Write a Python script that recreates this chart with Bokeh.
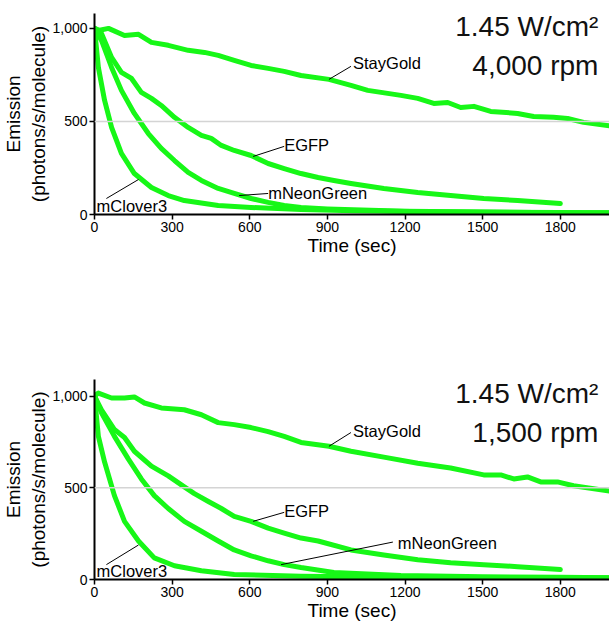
from bokeh.plotting import figure
from bokeh.layouts import column
from bokeh.models import Label, Span, FixedTicker, NumeralTickFormatter, Range1d
from bokeh.embed import file_html
from bokeh.resources import INLINE

# ---------------- data ----------------
# Panel A: 1.45 W/cm2, 4,000 rpm
a_staygold_t = [0, 20, 54, 116, 170, 220, 285, 362, 425, 478, 540, 605, 671, 733, 798, 906, 991,
                1056, 1184, 1249, 1311, 1365, 1415, 1466, 1531, 1635, 1697, 1774, 1828, 1890, 1990]
a_staygold_y = [1000, 990, 1000, 962, 968, 925, 909, 882, 871, 855, 828, 801, 785, 769, 747, 726, 694,
                667, 640, 624, 597, 602, 575, 581, 554, 543, 527, 522, 516, 495, 476]
a_egfp_t = [0, 27, 66, 104, 143, 181, 220, 258, 309, 362, 413, 451, 490, 540, 605, 671, 733, 798,
            864, 925, 991, 1118, 1249, 1376, 1504, 1635, 1800]
a_egfp_y = [1000, 973, 844, 764, 731, 656, 624, 586, 522, 468, 425, 409, 371, 344, 317, 274, 247, 220,
            199, 183, 167, 140, 118, 102, 86, 75, 59]
a_mneon_t = [0, 27, 66, 104, 154, 208, 258, 309, 362, 413, 478, 540, 605, 671, 733, 798, 900, 1000,
             1200, 1500, 1800, 1990]
a_mneon_y = [1000, 935, 790, 667, 543, 435, 355, 290, 226, 183, 140, 113, 86, 65, 48, 38, 30, 25,
             18, 13, 10, 9]
a_mclover_t = [0, 15, 39, 66, 104, 154, 220, 285, 347, 478, 605, 798, 1000, 1300, 1600, 1990]
a_mclover_y = [1000, 790, 613, 468, 328, 220, 145, 102, 75, 48, 38, 27, 20, 15, 12, 10]

# Panel B: 1.45 W/cm2, 1,500 rpm
b_staygold_t = [0, 15, 66, 116, 154, 193, 258, 347, 413, 478, 540, 605, 671, 733, 798, 906, 991, 1118,
                1249, 1376, 1504, 1570, 1620, 1673, 1724, 1789, 1851, 1990]
b_staygold_y = [1000, 1016, 989, 989, 995, 962, 935, 925, 898, 855, 844, 828, 806, 780, 747, 726, 699, 667,
                634, 608, 570, 570, 548, 559, 532, 532, 511, 482]
b_egfp_t = [0, 27, 77, 116, 154, 220, 285, 347, 386, 440, 490, 540, 605, 671, 733, 798, 864, 991,
            1118, 1249, 1376, 1504, 1635, 1800]
b_egfp_y = [1000, 925, 817, 774, 699, 618, 565, 505, 468, 425, 387, 344, 317, 280, 253, 226, 210, 161,
            134, 108, 91, 81, 70, 54]
b_mneon_t = [0, 27, 77, 131, 181, 231, 285, 347, 413, 478, 540, 605, 671, 733, 798, 925, 1184, 1500,
             1800, 1990]
b_mneon_y = [1000, 908, 780, 656, 548, 457, 387, 317, 263, 210, 161, 129, 102, 81, 65, 38, 22, 15,
             12, 10]
b_mclover_t = [0, 15, 39, 77, 116, 170, 231, 309, 413, 540, 798, 1100, 1500, 1990]
b_mclover_y = [1000, 780, 640, 457, 317, 210, 118, 75, 48, 27, 18, 14, 11, 9]

x_ticks = [0, 300, 600, 900, 1200, 1500, 1800]
y_ticks = [0, 500, 1000]
power_label = "1.45 W/cm²"
panel_speeds = ["4,000 rpm", "1,500 rpm"]
x_title = "Time (sec)"
y_title = "Emission\n(photons/s/molecule)"

FONT = "Liberation Sans"
GREEN = "#17f717"


def make_panel(series, speed, labels, height, border_top, border_bottom, ymax):
    p = figure(width=609, height=height, output_backend="svg", toolbar_location=None,
               x_range=Range1d(0, 1990), y_range=Range1d(0, ymax),
               min_border_left=93, min_border_right=0,
               min_border_top=border_top, min_border_bottom=border_bottom)
    p.outline_line_color = None
    p.xgrid.visible = False
    p.ygrid.visible = False
    p.background_fill_color = "white"
    p.border_fill_color = "white"

    p.add_layout(Span(location=500, dimension="width", line_color="#d4d4d4", line_width=1.5))

    for t, y in series:
        p.line(t, y, line_color=GREEN, line_width=5, line_join="round", line_cap="round")

    for ax in (p.xaxis[0], p.yaxis[0]):
        ax.axis_line_color = "black"
        ax.axis_line_width = 2
        ax.major_tick_line_color = "black"
        ax.major_tick_line_width = 1.5
        ax.major_tick_out = 5
        ax.major_tick_in = 0
        ax.minor_tick_line_color = None
        ax.major_label_text_font = FONT
        ax.major_label_text_font_size = "14px"
        ax.major_label_text_color = "black"
        ax.axis_label_text_font = FONT
        ax.axis_label_text_font_size = "19px"
        ax.axis_label_text_font_style = "normal"
        ax.axis_label_text_color = "black"
        ax.major_label_standoff = 2
        ax.axis_label_standoff = 0

    p.xaxis.ticker = FixedTicker(ticks=x_ticks)
    p.yaxis.ticker = FixedTicker(ticks=y_ticks)
    p.yaxis.formatter = NumeralTickFormatter(format="0,0")
    p.xaxis.axis_label = x_title
    p.yaxis.axis_label = y_title

    p.add_layout(Label(x=1947, y=1011, text=power_label, text_align="right",
                       text_baseline="alphabetic", text_font=FONT, text_font_size="28px",
                       text_color="#111111"))
    p.add_layout(Label(x=1947, y=801, text=speed, text_align="right",
                       text_baseline="alphabetic", text_font=FONT, text_font_size="28px",
                       text_color="#111111"))

    for name, tx, ty, (x0, y0, x1, y1) in labels:
        p.segment(x0=[x0], y0=[y0], x1=[x1], y1=[y1], line_color="black", line_width=1)
        p.add_layout(Label(x=tx, y=ty, text=name, text_align="left", text_baseline="alphabetic",
                           text_font=FONT, text_font_size="16.5px", text_color="black"))
    return p


labels_a = [
    ("StayGold", 999, 812, (991, 796, 906, 726)),
    ("EGFP", 733, 371, (733, 366, 613, 312)),
    ("mNeonGreen", 671, 113, (671, 113, 559, 102)),
    ("mClover3", 8, 45, (46, 86, 170, 188)),
]
labels_b = [
    ("StayGold", 999, 812, (991, 801, 906, 726)),
    ("EGFP", 733, 371, (733, 366, 613, 317)),
    ("mNeonGreen", 1172, 199, (1153, 204, 721, 81)),
    ("mClover3", 8, 45, (46, 81, 170, 188)),
]

p1 = make_panel([(a_staygold_t, a_staygold_y), (a_egfp_t, a_egfp_y),
                 (a_mneon_t, a_mneon_y), (a_mclover_t, a_mclover_y)],
                panel_speeds[0], labels_a, 298, 13, 84, 1080)
p2 = make_panel([(b_staygold_t, b_staygold_y), (b_egfp_t, b_egfp_y),
                 (b_mneon_t, b_mneon_y), (b_mclover_t, b_mclover_y)],
                panel_speeds[1], labels_b, 325, 81, 41, 1090)

layout = column(p1, p2, spacing=0)
open("out.html", "w").write(file_html(layout, INLINE))
